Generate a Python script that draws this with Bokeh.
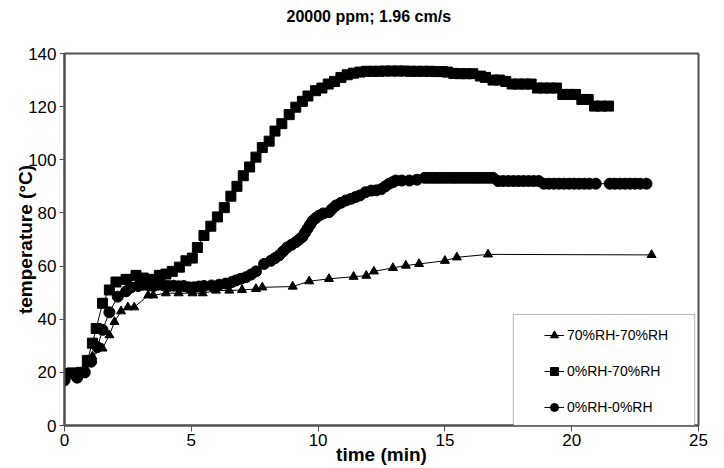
from bokeh.plotting import figure
from bokeh.models import Legend, LegendItem, BoxAnnotation, FixedTicker, Range1d, Title
from bokeh.embed import file_html
from bokeh.resources import INLINE

# ---- data ----
sq_t = [0.0, 0.3, 0.66, 0.9, 1.1, 1.25, 1.5, 1.77, 2.03, 2.43, 2.82, 3.1, 3.4, 3.74, 4.0,
        4.25, 4.53, 4.79, 5.04, 5.24, 5.5, 5.77, 6.03, 6.3, 6.56, 6.8, 7.05, 7.3, 7.55, 7.8,
        8.07, 8.3, 8.57, 8.86, 9.12, 9.38, 9.6, 9.9, 10.15, 10.4, 10.65, 10.9, 11.15, 11.4,
        11.65, 11.9, 12.15, 12.4, 12.65, 12.9, 13.15, 13.4, 13.65, 13.9, 14.15, 14.4, 14.65,
        14.9, 15.1, 15.35, 15.6, 15.85, 16.1, 16.4, 16.6, 16.9, 17.15, 17.4, 17.65, 17.9,
        18.15, 18.4, 18.65, 18.9, 19.15, 19.4, 19.65, 19.9, 20.15, 20.4, 20.65, 20.9, 21.15,
        21.45]
sq_temp = [19.6, 19.8, 20.0, 24.5, 31.0, 36.5, 46.0, 51.0, 54.0, 55.0, 56.5, 55.5, 55.0, 56.5, 57.0,
           58.0, 59.6, 62.0, 63.0, 67.0, 71.5, 75.0, 78.5, 82.0, 86.3, 90.0, 94.0, 97.3, 101.0, 104.6,
           107.0, 110.8, 113.6, 117.0, 119.8, 122.0, 124.0, 126.0, 127.0, 128.5, 129.5, 131.0, 132.0, 132.6,
           133.0, 133.3, 133.3, 133.3, 133.4, 133.4, 133.4, 133.4, 133.3, 133.3, 133.3, 133.3, 133.2,
           133.2, 133.0, 132.5, 132.4, 132.4, 132.4, 131.5, 131.0, 130.0, 130.0, 129.5, 128.5, 128.5,
           128.5, 128.5, 127.0, 127.0, 127.0, 127.0, 124.6, 124.6, 124.6, 122.7, 122.7, 120.2, 120.2,
           120.2]

ci_t = [0.0, 0.5, 0.8, 1.05, 1.3, 1.5, 1.77, 2.1, 2.43, 2.62, 2.9, 3.1, 3.3, 3.5, 3.7, 3.9,
        4.1, 4.3, 4.5, 4.7, 4.9, 5.1, 5.3, 5.5, 5.8, 6.1, 6.36, 6.6, 6.76, 6.95, 7.15, 7.35,
        7.55, 7.87, 8.14, 8.3, 8.46, 8.62, 8.78, 8.95, 9.12, 9.25, 9.38, 9.48, 9.58, 9.68, 9.78,
        9.9, 10.04, 10.2, 10.43, 10.55, 10.7, 10.9, 11.1, 11.3, 11.48, 11.65, 11.87, 12.1, 12.3,
        12.5, 12.65, 12.8, 12.95, 13.06, 13.3, 13.6, 13.9, 14.2, 14.35, 14.5, 14.65, 14.8, 14.95,
        15.1, 15.25, 15.4, 15.55, 15.7, 15.85, 16.0, 16.15, 16.3, 16.45, 16.6, 16.75, 16.9, 17.1,
        17.3, 17.5, 17.7, 17.9, 18.1, 18.3, 18.5, 18.7, 18.9, 19.1, 19.3, 19.5, 19.7, 19.9, 20.1,
        20.3, 20.5, 20.7, 20.95, 21.5, 21.7, 21.9, 22.1, 22.3, 22.5, 22.7, 22.95]
ci_temp = [17.0, 18.0, 20.0, 24.0, 29.5, 36.0, 42.6, 48.5, 50.5, 52.0, 52.5, 53.0, 52.8, 52.5, 53.0, 52.8,
           52.5, 52.6, 52.4, 52.5, 52.0, 52.0, 52.3, 52.5, 52.7, 53.0, 53.4, 54.0, 54.6, 55.2, 55.8, 56.8,
           58.0, 60.8, 62.0, 63.0, 64.0, 65.5, 67.0, 68.0, 69.0, 70.0, 71.0, 72.5, 74.0, 75.5, 77.0,
           78.0, 79.0, 79.8, 80.3, 81.5, 82.8, 83.8, 84.7, 85.3, 86.0, 86.6, 87.8, 88.4, 88.5,
           89.0, 90.0, 91.0, 91.6, 92.2, 92.2, 92.2, 92.5, 93.2, 93.2, 93.2, 93.2, 93.2, 93.2,
           93.2, 93.2, 93.2, 93.2, 93.2, 93.2, 93.2, 93.2, 93.2, 93.2, 93.2, 93.2, 93.2, 92.0,
           92.0, 92.0, 92.0, 92.0, 92.0, 92.0, 92.0, 92.0, 91.0, 91.0, 91.0, 91.0, 91.0, 91.0, 91.0,
           91.0, 91.0, 91.0, 91.0, 91.0, 91.0, 91.0, 91.0, 91.0, 91.0, 91.0, 91.0]

tr_t = [0.0, 0.5, 0.8, 1.1, 1.5, 1.77, 1.97, 2.23, 2.5, 2.75, 3.3, 3.5, 4.0, 4.5, 5.05, 5.45,
        5.97, 6.5, 7.0, 7.55, 7.8, 9.0, 9.65, 10.43, 11.4, 11.9, 12.2, 12.95, 13.46, 13.98,
        15.0, 15.47, 16.7, 23.15]
tr_temp = [20.0, 20.0, 22.0, 26.0, 29.0, 34.0, 39.0, 43.0, 44.5, 44.5, 49.0, 49.0, 49.8, 49.8, 49.8, 49.8,
           50.8, 50.8, 51.0, 51.4, 52.0, 52.3, 54.3, 55.2, 56.0, 56.4, 58.0, 59.3, 60.2, 60.8,
           62.0, 63.3, 64.4, 64.2]

x_ticks = [0, 5, 10, 15, 20, 25]
y_ticks = [0, 20, 40, 60, 80, 100, 120, 140]

names = ["70%RH-70%RH", "0%RH-70%RH", "0%RH-0%RH"]
title_text = "20000 ppm; 1.96 cm/s"

FONT = "Liberation Sans"

p = figure(width=724, height=468, output_backend="svg", toolbar_location=None,
           title=None,
           x_range=Range1d(0, 25), y_range=Range1d(0, 140),
           min_border_left=64, min_border_right=26, min_border_top=53, min_border_bottom=43)

# spacer (closest to the frame) and the chart title above it
spacer = Title(text=" ", text_font=FONT, text_font_size="16px", standoff=8)
main_title = Title(text=title_text, align="left", offset=222, standoff=4,
                   text_font=FONT, text_font_style="bold", text_font_size="16px", text_color="black")
p.add_layout(spacer, "above")
p.add_layout(main_title, "above")

p.xgrid.visible = False
p.ygrid.visible = False
p.outline_line_color = "#505050"
p.outline_line_width = 2
p.background_fill_color = "white"
p.border_fill_color = "white"

for ax in (p.xaxis[0], p.yaxis[0]):
    ax.axis_line_color = "#505050"
    ax.axis_line_width = 2
    ax.major_tick_line_color = "#505050"
    ax.major_tick_line_width = 1
    ax.minor_tick_line_color = None
    ax.major_tick_in = 0
    ax.major_label_text_font = FONT
    ax.major_label_text_font_size = "17px"
    ax.major_label_text_color = "black"
    ax.axis_label_text_font = FONT
    ax.axis_label_text_font_style = "bold"
    ax.axis_label_text_font_size = "19px"
    ax.axis_label_text_color = "black"

p.xaxis[0].ticker = FixedTicker(ticks=x_ticks)
p.yaxis[0].ticker = FixedTicker(ticks=y_ticks)
p.xaxis[0].major_tick_out = 6
p.yaxis[0].major_tick_out = 5
p.xaxis[0].major_label_standoff = 2
p.yaxis[0].major_label_standoff = 3
p.xaxis[0].axis_label = "time (min)"
p.yaxis[0].axis_label = "temperature (°C)"
p.xaxis[0].axis_label_standoff = -5
p.yaxis[0].axis_label_standoff = -11

r_tr_l = p.line(tr_t, tr_temp, line_color="black", line_width=1)
r_tr_m = p.scatter(tr_t, tr_temp, marker="triangle", size=9, fill_color="black", line_color="black")
r_sq_l = p.line(sq_t, sq_temp, line_color="black", line_width=1)
r_sq_m = p.scatter(sq_t, sq_temp, marker="square", size=10, fill_color="black", line_color="black")
r_ci_l = p.line(ci_t, ci_temp, line_color="black", line_width=1)
r_ci_m = p.scatter(ci_t, ci_temp, marker="circle", size=11, fill_color="black", line_color="black")

box = BoxAnnotation(left=17.7, right=24.85, bottom=0, top=41.8,
                    fill_color="white", fill_alpha=1.0, line_color="black", line_width=1)
p.add_layout(box)

legend = Legend(items=[LegendItem(label=names[0], renderers=[r_tr_l, r_tr_m]),
                       LegendItem(label=names[1], renderers=[r_sq_l, r_sq_m]),
                       LegendItem(label=names[2], renderers=[r_ci_l, r_ci_m])],
                location=(480, 8), orientation="vertical",
                border_line_alpha=0, background_fill_alpha=0,
                padding=0, margin=0, spacing=16,
                glyph_width=20, glyph_height=20, label_height=20, label_standoff=3,
                label_text_font=FONT, label_text_font_size="14px", label_text_color="black")
p.add_layout(legend, "center")

open("out.html", "w").write(file_html(p, INLINE))
